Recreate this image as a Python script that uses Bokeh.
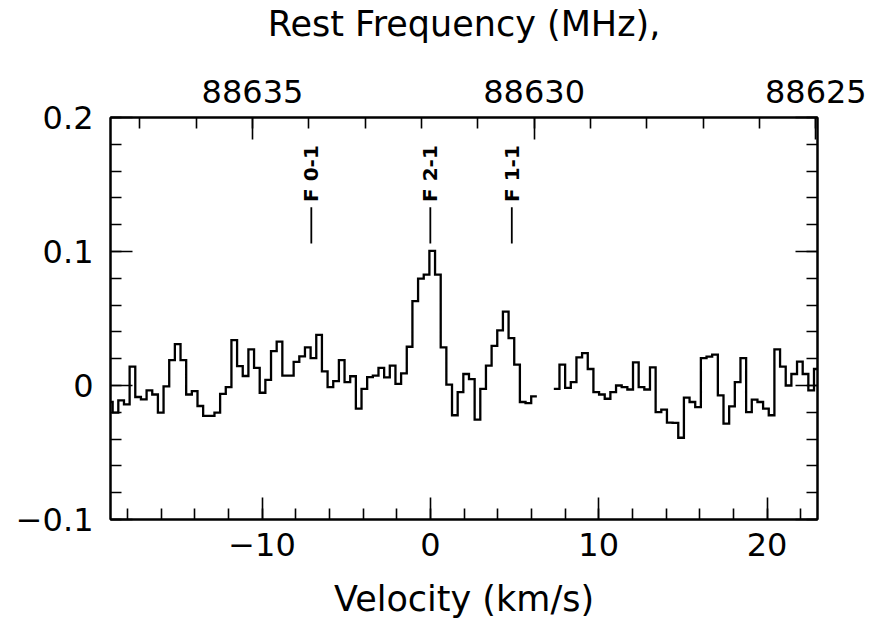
import numpy as np
from math import pi
from bokeh.plotting import figure
from bokeh.models import Range1d, LinearAxis, SingleIntervalTicker, CustomJSTickFormatter
from bokeh.core.properties import value
from bokeh.embed import file_html
from bokeh.resources import INLINE

# ---------------- data ----------------
chan_width = 0.336        # km/s per channel
first_edge = -19.208      # left edge of the first channel (km/s)
# antenna temperature per channel (K); None = no data
intensity = [
    -0.0123, -0.0202, -0.0111, -0.0141, 0.0141, -0.0086, -0.0104, -0.0037, -0.0067, -0.0202,
    -0.0007, 0.0190, 0.0309, 0.0190, -0.0067, -0.0042, -0.0153, -0.0227, -0.0227, -0.0202,
    -0.0062, -0.0012, 0.0338, 0.0145, 0.0071, 0.0269, 0.0131, -0.0054, 0.0042, 0.0257,
    0.0328, 0.0074, 0.0074, 0.0176, 0.0218, 0.0284, 0.0205, 0.0378, 0.0105, -0.0012,
    0.0032, 0.0190, 0.0025, 0.0069, -0.0173, -0.0025, 0.0062, 0.0074, 0.0131, 0.0060,
    0.0148, 0.0012, 0.0091, 0.0289, 0.0630, 0.0798, 0.0827, 0.1005, 0.0827, 0.0284,
    0.0007, -0.0222, -0.0049, 0.0086, 0.0047, -0.0254, -0.0025, 0.0148, 0.0296, 0.0412,
    0.0551, 0.0353, 0.0156, -0.0123, -0.0131, -0.0081, None, None, None, -0.0025,
    0.0156, -0.0017, 0.0025, 0.0210, 0.0242, 0.0123, -0.0049, -0.0067, -0.0099, -0.0049,
    0.0000, -0.0012, -0.0030, 0.0173, -0.0012, -0.0030, 0.0136, -0.0198, -0.0180, -0.0277,
    -0.0279, -0.0390, -0.0091, -0.0123, -0.0162, 0.0205, 0.0215, 0.0230, -0.0074, -0.0284,
    -0.0156, 0.0025, 0.0205, -0.0198, -0.0106, -0.0123, -0.0173, -0.0222, 0.0269, 0.0141,
    0.0000, 0.0086, 0.0178, 0.0086, -0.0037, 0.0123,
]
line_names = ["F 0-1", "F 2-1", "F 1-1"]
line_vel = [-7.07, 0.0, 4.84]

vel_limits = (-19.0, 23.0)
freq_limits = (88637.52, 88624.97)
temp_limits = (-0.1, 0.2)

# ---------------- figure ----------------
FONT = "DejaVu Sans"

p = figure(
    frame_width=707, frame_height=402,
    min_border_left=110, min_border_right=50, min_border_top=117, min_border_bottom=105,
    x_range=Range1d(*vel_limits), y_range=Range1d(*temp_limits),
    output_backend="svg", toolbar_location=None,
    background_fill_color="white", border_fill_color="white",
)
p.extra_x_ranges = {"freq": Range1d(*freq_limits)}
p.xgrid.visible = False
p.ygrid.visible = False
p.outline_line_color = "black"
p.outline_line_width = 2


def style(ax):
    ax.axis_line_width = 2
    ax.axis_line_color = "black"
    ax.major_tick_in = 22
    ax.major_tick_out = 0
    ax.minor_tick_in = 11
    ax.minor_tick_out = 0
    ax.major_tick_line_width = 1.6
    ax.minor_tick_line_width = 1.6
    ax.major_tick_line_color = "black"
    ax.minor_tick_line_color = "black"
    ax.major_label_text_font = FONT
    ax.major_label_text_font_size = "32px"
    ax.major_label_text_color = "black"
    ax.axis_label_text_font = FONT
    ax.axis_label_text_font_size = "35px"
    ax.axis_label_text_font_style = "normal"
    ax.axis_label_text_color = "black"


# bottom: velocity
bx = p.xaxis[0]
bx.ticker = SingleIntervalTicker(interval=10, num_minor_ticks=5)
bx.formatter = CustomJSTickFormatter(code="return Math.round(tick).toString().replace('-', '\\u2212');")
bx.axis_label = "Velocity (km/s)"
style(bx)
bx.major_label_standoff = 13
bx.axis_label_standoff = 20

# left: intensity
ly = p.yaxis[0]
ly.ticker = SingleIntervalTicker(interval=0.1, num_minor_ticks=5)
ly.formatter = CustomJSTickFormatter(code="""
const v = Math.round(tick * 10) / 10;
return (v === 0 ? '0' : v.toString()).replace('-', '\\u2212');
""")
style(ly)
ly.major_label_standoff = 17

# top: rest frequency
tx = LinearAxis(x_range_name="freq",
                ticker=SingleIntervalTicker(interval=5, num_minor_ticks=5),
                formatter=CustomJSTickFormatter(code="return Math.round(tick).toString();"),
                axis_label="Rest Frequency (MHz),")
style(tx)
tx.major_label_standoff = 15
tx.axis_label_standoff = 33
p.add_layout(tx, "above")

# right: ticks only
ry = LinearAxis(ticker=SingleIntervalTicker(interval=0.1, num_minor_ticks=5),
                formatter=CustomJSTickFormatter(code="return '';"))
style(ry)
p.add_layout(ry, "right")

# ---------------- spectrum (histogram steps) ----------------
vals = np.array([np.nan if v is None else v for v in intensity], dtype=float)
left = first_edge + chan_width * np.arange(len(vals))
xs = np.column_stack([left, left + chan_width]).ravel()
ys = np.repeat(vals, 2)
p.line(xs, ys, line_color="black", line_width=2.3, line_join="miter")

# ---------------- hyperfine component markers ----------------
p.segment(x0=line_vel, y0=0.106, x1=line_vel, y1=0.133, line_color="black", line_width=1.8)
p.text(x=line_vel, y=0.137, text=line_names, angle=pi / 2,
       text_align="left", text_baseline="middle",
       text_font=value(FONT), text_font_style="bold", text_font_size="20px",
       text_color="black")

open("out.html", "w").write(file_html(p, INLINE))
